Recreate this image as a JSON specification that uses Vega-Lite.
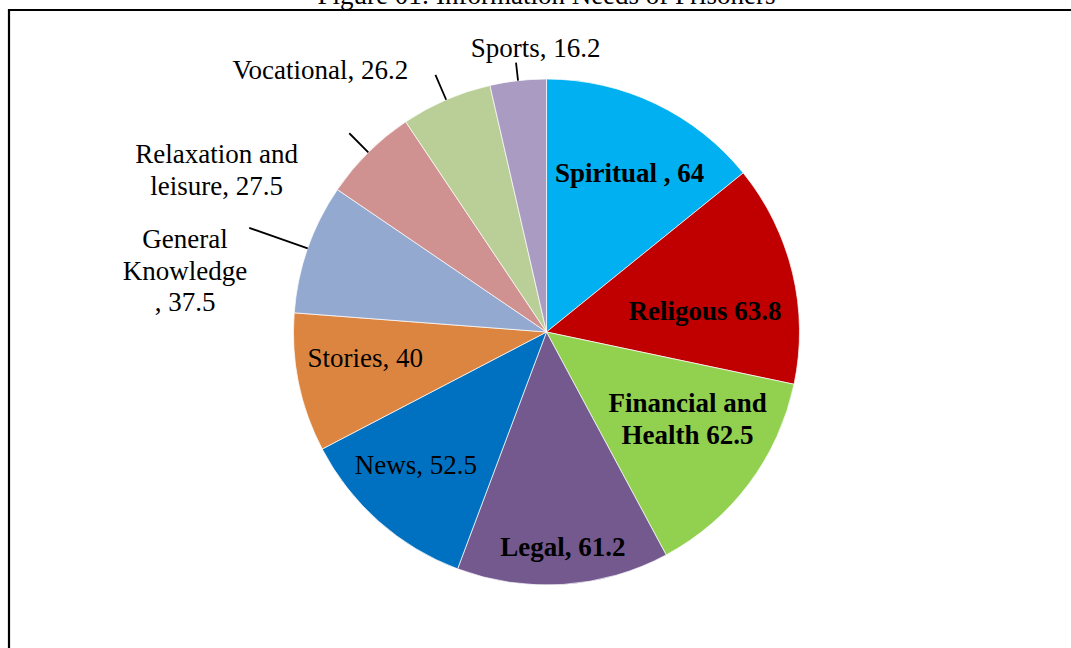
{
  "$schema": "https://vega.github.io/schema/vega-lite/v6.json",
  "width": 1075,
  "height": 644,
  "autosize": {"type": "none"},
  "padding": {"left": 9, "top": 10, "right": -13, "bottom": -6},
  "background": "white",
  "view": {"stroke": "black", "strokeWidth": 2.2},
  "title": {"text": "Figure 01: Information Needs of Prisoners", "font": "Liberation Serif", "fontSize": 27, "fontWeight": "normal", "color": "black", "anchor": "middle", "baseline": "bottom", "offset": -30},
  "data": {"values": [
    {"category": "Spiritual", "value": 64, "label": "Spiritual , 64"},
    {"category": "Religous", "value": 63.8, "label": "Religous 63.8"},
    {"category": "Financial and Health", "value": 62.5, "label": "Financial and\nHealth 62.5"},
    {"category": "Legal", "value": 61.2, "label": "Legal, 61.2"},
    {"category": "News", "value": 52.5, "label": "News, 52.5"},
    {"category": "Stories", "value": 40, "label": "Stories, 40"},
    {"category": "General Knowledge", "value": 37.5, "label": "General\nKnowledge\n, 37.5"},
    {"category": "Relaxation and leisure", "value": 27.5, "label": "Relaxation and\nleisure, 27.5"},
    {"category": "Vocational", "value": 26.2, "label": "Vocational, 26.2"},
    {"category": "Sports", "value": 16.2, "label": "Sports, 16.2"}
  ]},
  "transform": [{"window": [{"op": "row_number", "as": "idx"}]}],
  "encoding": {
    "theta": {"field": "value", "type": "quantitative", "stack": true},
    "order": {"field": "idx", "type": "quantitative", "sort": "ascending"},
    "color": {
      "field": "category", "type": "nominal", "legend": null,
      "scale": {
        "domain": ["Spiritual", "Religous", "Financial and Health", "Legal", "News", "Stories", "General Knowledge", "Relaxation and leisure", "Vocational", "Sports"],
        "range": ["#00B0F0", "#C00000", "#92D050", "#73598E", "#0070C0", "#DC8540", "#94A9D0", "#D09290", "#BACF97", "#A99BC1"]
      }
    }
  },
  "layer": [
    {"mark": {"type": "arc", "outerRadius": 253, "stroke": "white", "strokeWidth": 0.7}},
    {"mark": {"type": "arc", "innerRadius": 253, "outerRadius": 271, "padAngle": 3, "stroke": "black", "strokeWidth": 1.8},
     "encoding": {"strokeOpacity": {"condition": {"test": "datum.category === 'Sports'", "value": 1}, "value": 0}}},
    {"mark": {"type": "arc", "innerRadius": 253, "outerRadius": 280, "padAngle": 3, "stroke": "black", "strokeWidth": 1.8},
     "encoding": {"strokeOpacity": {"condition": {"test": "datum.category === 'Vocational'", "value": 1}, "value": 0}}},
    {"mark": {"type": "arc", "innerRadius": 253, "outerRadius": 280, "padAngle": 3, "stroke": "black", "strokeWidth": 1.8},
     "encoding": {"strokeOpacity": {"condition": {"test": "datum.category === 'Relaxation and leisure'", "value": 1}, "value": 0}}},
    {"mark": {"type": "arc", "innerRadius": 253, "outerRadius": 315, "padAngle": 3, "stroke": "black", "strokeWidth": 1.8},
     "encoding": {"strokeOpacity": {"condition": {"test": "datum.category === 'General Knowledge'", "value": 1}, "value": 0}}},
    {"mark": {"type": "text", "radius": 172, "dx": 9, "dy": 5, "align": "center", "baseline": "alphabetic", "font": "Liberation Serif", "fontSize": 27, "fontWeight": "bold", "lineBreak": "\n", "lineHeight": 31.7},
     "encoding": {"color": {"value": "black"}, "text": {"condition": {"test": "datum.category === 'Spiritual'", "field": "label", "type": "nominal"}, "value": ""}}},
    {"mark": {"type": "text", "radius": 160, "dx": 3, "dy": 25, "align": "center", "baseline": "alphabetic", "font": "Liberation Serif", "fontSize": 27, "fontWeight": "bold", "lineBreak": "\n", "lineHeight": 31.7},
     "encoding": {"color": {"value": "black"}, "text": {"condition": {"test": "datum.category === 'Religous'", "field": "label", "type": "nominal"}, "value": ""}}},
    {"mark": {"type": "text", "radius": 165, "dx": 9, "dy": -19, "align": "center", "baseline": "alphabetic", "font": "Liberation Serif", "fontSize": 27, "fontWeight": "bold", "lineBreak": "\n", "lineHeight": 31.7},
     "encoding": {"color": {"value": "black"}, "text": {"condition": {"test": "datum.category === 'Financial and Health'", "field": "label", "type": "nominal"}, "value": ""}}},
    {"mark": {"type": "text", "radius": 215, "dx": 2, "dy": 9, "align": "center", "baseline": "alphabetic", "font": "Liberation Serif", "fontSize": 27, "fontWeight": "bold", "lineBreak": "\n", "lineHeight": 31.7},
     "encoding": {"color": {"value": "black"}, "text": {"condition": {"test": "datum.category === 'Legal'", "field": "label", "type": "nominal"}, "value": ""}}},
    {"mark": {"type": "text", "radius": 185, "dx": -8, "dy": 3, "align": "center", "baseline": "alphabetic", "font": "Liberation Serif", "fontSize": 27, "lineBreak": "\n", "lineHeight": 31.7},
     "encoding": {"color": {"value": "black"}, "text": {"condition": {"test": "datum.category === 'News'", "field": "label", "type": "nominal"}, "value": ""}}},
    {"mark": {"type": "text", "radius": 182, "dx": -3, "dy": -2, "align": "center", "baseline": "alphabetic", "font": "Liberation Serif", "fontSize": 27, "lineBreak": "\n", "lineHeight": 31.7},
     "encoding": {"color": {"value": "black"}, "text": {"condition": {"test": "datum.category === 'Stories'", "field": "label", "type": "nominal"}, "value": ""}}},
    {"mark": {"type": "text", "radius": 330, "dx": -50, "dy": 25, "align": "center", "baseline": "alphabetic", "font": "Liberation Serif", "fontSize": 27, "lineBreak": "\n", "lineHeight": 31.7},
     "encoding": {"color": {"value": "black"}, "text": {"condition": {"test": "datum.category === 'General Knowledge'", "field": "label", "type": "nominal"}, "value": ""}}},
    {"mark": {"type": "text", "radius": 352, "dx": -82, "dy": 81, "align": "center", "baseline": "alphabetic", "font": "Liberation Serif", "fontSize": 27, "lineBreak": "\n", "lineHeight": 31.7},
     "encoding": {"color": {"value": "black"}, "text": {"condition": {"test": "datum.category === 'Relaxation and leisure'", "field": "label", "type": "nominal"}, "value": ""}}},
    {"mark": {"type": "text", "radius": 288, "dx": -24, "dy": 11, "align": "right", "baseline": "alphabetic", "font": "Liberation Serif", "fontSize": 27, "lineBreak": "\n", "lineHeight": 31.7},
     "encoding": {"color": {"value": "black"}, "text": {"condition": {"test": "datum.category === 'Vocational'", "field": "label", "type": "nominal"}, "value": ""}}},
    {"mark": {"type": "text", "radius": 275, "dx": 20, "dy": -2, "align": "center", "baseline": "alphabetic", "font": "Liberation Serif", "fontSize": 27, "lineBreak": "\n", "lineHeight": 31.7},
     "encoding": {"color": {"value": "black"}, "text": {"condition": {"test": "datum.category === 'Sports'", "field": "label", "type": "nominal"}, "value": ""}}}
  ]
}
